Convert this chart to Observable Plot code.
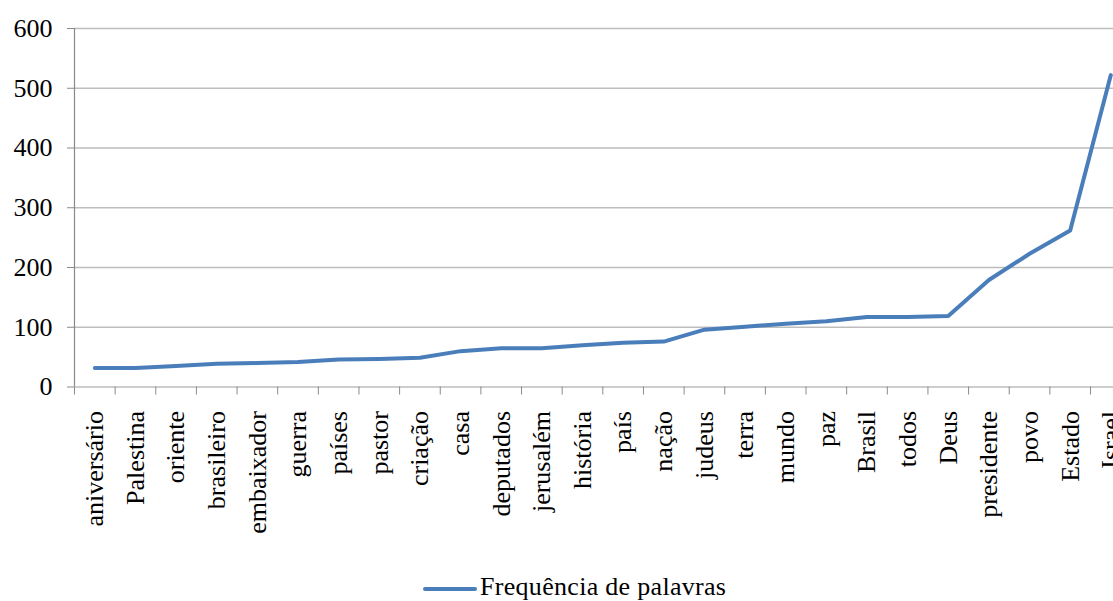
<!DOCTYPE html>
<html>
<head>
<meta charset="utf-8">
<script src="https://cdn.jsdelivr.net/npm/d3@7"></script>
<script src="https://cdn.jsdelivr.net/npm/@observablehq/plot@0.6"></script>
<style>
  body { margin: 0; background: white; overflow: hidden; font-family: "Liberation Serif", serif; }
  #chart svg { overflow: hidden; }
  #legend { position: absolute; left: 423px; top: 573px; display: flex; align-items: center; font-size: 26px; line-height: 27px; color: #000; letter-spacing: 0.3px; }
  #legend .sw { width: 54px; height: 4px; background: #4a7ebb; border-radius: 2px; margin-right: 3px; margin-top: 4px; }
</style>
</head>
<body>
<div id="chart"></div>
<div id="legend"><span class="sw"></span><span>Frequência de palavras</span></div>
<script>
const words = ["aniversário","Palestina","oriente","brasileiro","embaixador","guerra","países","pastor","criação","casa","deputados","jerusalém","história","país","nação","judeus","terra","mundo","paz","Brasil","todos","Deus","presidente","povo","Estado","Israel"];
const freq = [32,32,35,39,40,42,46,47,49,60,65,65,70,74,76,96,101,106,110,117,117,119,179,223,262,522];
const yTicks = [0,100,200,300,400,500,600];
const seriesName = "Frequência de palavras";

const data = words.map((w, i) => ({word: w, i: i + 0.5, value: freq[i]}));

const chart = Plot.plot({
  width: 1113,
  height: 560,
  marginTop: 28,
  marginBottom: 173.5,
  marginLeft: 74,
  marginRight: 0,
  style: {fontFamily: "Liberation Serif, serif", fontSize: "26px", color: "#000", background: "white"},
  x: {type: "linear", domain: [0, words.length], range: [74, 74 + 40.64 * words.length], label: null},
  y: {domain: [0, 600], label: null},
  marks: [
    Plot.gridY(yTicks.filter(d => d > 0), {stroke: "#bdbdbd", strokeOpacity: 1, strokeWidth: 1.6}),
    Plot.axisY({ticks: yTicks, tickSize: 7, tickPadding: 15, stroke: "#8a8a8a", fill: "#000", fontSize: 26, label: null}),
    Plot.ruleX([0], {stroke: "#8a8a8a", strokeWidth: 1.2}),
    Plot.ruleY([0], {stroke: "#bdbdbd", strokeWidth: 1.6}),
    Plot.axisX({ticks: d3.range(words.length + 1), tickFormat: () => "", tickSize: 8, stroke: "#8a8a8a", label: null}),
    Plot.axisX({ticks: data.map(d => d.i), tickFormat: d => words[Math.floor(d)], tickSize: 0, tickPadding: 24, tickRotate: -90, fill: "#000", fontSize: 26, label: null}),
    Plot.line(data, {x: "i", y: "value", stroke: "#4a7ebb", strokeWidth: 4, strokeLinejoin: "round", strokeLinecap: "round"})
  ]
});
document.getElementById("chart").appendChild(chart);
</script>
</body>
</html>
